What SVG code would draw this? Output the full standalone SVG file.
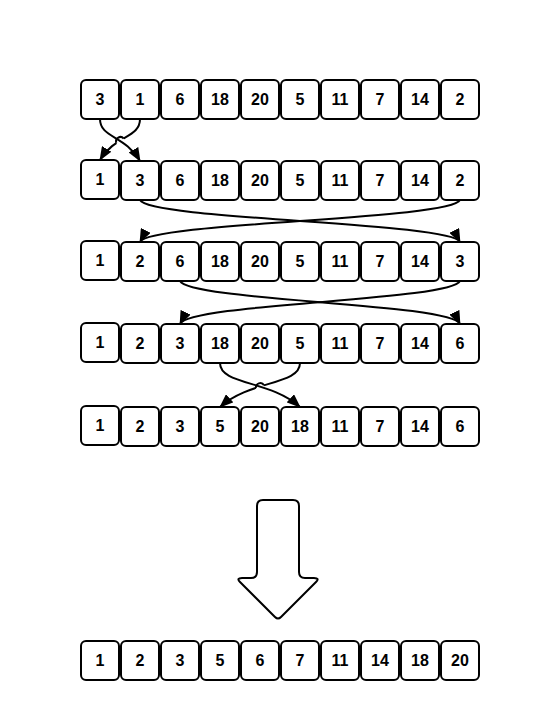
<svg xmlns="http://www.w3.org/2000/svg" width="560" height="721" viewBox="0 0 560 721">
<defs>
<style>
.b rect{fill:#fff;stroke:#000;stroke-width:2}
.b text{font-family:"Liberation Sans",Arial,sans-serif;font-weight:bold;font-size:16px;text-anchor:middle;fill:#000}
.c path{fill:none;stroke:#000;stroke-width:2}
.c path.gap{stroke:#fff;stroke-width:4}
</style>
<marker id="ah" viewBox="0 0 14 11" refX="13" refY="5.5" markerWidth="14" markerHeight="11" markerUnits="userSpaceOnUse" orient="auto">
<path d="M0,0 L14,5.5 L0,11 Z" fill="#000"/>
</marker>
</defs>
<rect width="560" height="721" fill="#fff"/>

<g id="row1" class="b">
<rect x="81" y="80" width="38" height="39" rx="5"/><text x="100" y="105">3</text>
<rect x="121" y="80" width="38" height="39" rx="5"/><text x="140" y="105">1</text>
<rect x="161" y="80" width="38" height="39" rx="5"/><text x="180" y="105">6</text>
<rect x="201" y="80" width="38" height="39" rx="5"/><text x="220" y="105">18</text>
<rect x="241" y="80" width="38" height="39" rx="5"/><text x="260" y="105">20</text>
<rect x="281" y="80" width="38" height="39" rx="5"/><text x="300" y="105">5</text>
<rect x="321" y="80" width="38" height="39" rx="5"/><text x="340" y="105">11</text>
<rect x="361" y="80" width="38" height="39" rx="5"/><text x="380" y="105">7</text>
<rect x="401" y="80" width="38" height="39" rx="5"/><text x="420" y="105">14</text>
<rect x="441" y="80" width="38" height="39" rx="5"/><text x="460" y="105">2</text>
</g>

<g id="row2" class="b">
<rect x="81" y="160" width="38" height="39" rx="5"/><text x="100" y="185">1</text>
<rect x="121" y="161" width="38" height="39" rx="5"/><text x="140" y="186">3</text>
<rect x="161" y="161" width="38" height="39" rx="5"/><text x="180" y="186">6</text>
<rect x="201" y="161" width="38" height="39" rx="5"/><text x="220" y="186">18</text>
<rect x="241" y="161" width="38" height="39" rx="5"/><text x="260" y="186">20</text>
<rect x="281" y="161" width="38" height="39" rx="5"/><text x="300" y="186">5</text>
<rect x="321" y="161" width="38" height="39" rx="5"/><text x="340" y="186">11</text>
<rect x="361" y="161" width="38" height="39" rx="5"/><text x="380" y="186">7</text>
<rect x="401" y="161" width="38" height="39" rx="5"/><text x="420" y="186">14</text>
<rect x="441" y="161" width="38" height="39" rx="5"/><text x="460" y="186">2</text>
</g>

<g id="row3" class="b">
<rect x="81" y="241" width="38" height="39" rx="5"/><text x="100" y="266">1</text>
<rect x="121" y="242" width="38" height="39" rx="5"/><text x="140" y="267">2</text>
<rect x="161" y="242" width="38" height="39" rx="5"/><text x="180" y="267">6</text>
<rect x="201" y="242" width="38" height="39" rx="5"/><text x="220" y="267">18</text>
<rect x="241" y="242" width="38" height="39" rx="5"/><text x="260" y="267">20</text>
<rect x="281" y="242" width="38" height="39" rx="5"/><text x="300" y="267">5</text>
<rect x="321" y="242" width="38" height="39" rx="5"/><text x="340" y="267">11</text>
<rect x="361" y="242" width="38" height="39" rx="5"/><text x="380" y="267">7</text>
<rect x="401" y="242" width="38" height="39" rx="5"/><text x="420" y="267">14</text>
<rect x="441" y="242" width="38" height="39" rx="5"/><text x="460" y="267">3</text>
</g>

<g id="row4" class="b">
<rect x="81" y="323" width="38" height="39" rx="5"/><text x="100" y="348">1</text>
<rect x="121" y="324" width="38" height="39" rx="5"/><text x="140" y="349">2</text>
<rect x="161" y="324" width="38" height="39" rx="5"/><text x="180" y="349">3</text>
<rect x="201" y="324" width="38" height="39" rx="5"/><text x="220" y="349">18</text>
<rect x="241" y="324" width="38" height="39" rx="5"/><text x="260" y="349">20</text>
<rect x="281" y="324" width="38" height="39" rx="5"/><text x="300" y="349">5</text>
<rect x="321" y="324" width="38" height="39" rx="5"/><text x="340" y="349">11</text>
<rect x="361" y="324" width="38" height="39" rx="5"/><text x="380" y="349">7</text>
<rect x="401" y="324" width="38" height="39" rx="5"/><text x="420" y="349">14</text>
<rect x="441" y="324" width="38" height="39" rx="5"/><text x="460" y="349">6</text>
</g>

<g id="row5" class="b">
<rect x="81" y="406" width="38" height="39" rx="5"/><text x="100" y="431">1</text>
<rect x="121" y="407" width="38" height="39" rx="5"/><text x="140" y="432">2</text>
<rect x="161" y="407" width="38" height="39" rx="5"/><text x="180" y="432">3</text>
<rect x="201" y="407" width="38" height="39" rx="5"/><text x="220" y="432">5</text>
<rect x="241" y="407" width="38" height="39" rx="5"/><text x="260" y="432">20</text>
<rect x="281" y="407" width="38" height="39" rx="5"/><text x="300" y="432">18</text>
<rect x="321" y="407" width="38" height="39" rx="5"/><text x="340" y="432">11</text>
<rect x="361" y="407" width="38" height="39" rx="5"/><text x="380" y="432">7</text>
<rect x="401" y="407" width="38" height="39" rx="5"/><text x="420" y="432">14</text>
<rect x="441" y="407" width="38" height="39" rx="5"/><text x="460" y="432">6</text>
</g>

<g id="result" class="b">
<rect x="81" y="641" width="38" height="39" rx="5"/><text x="100" y="666">1</text>
<rect x="121" y="641" width="38" height="39" rx="5"/><text x="140" y="666">2</text>
<rect x="161" y="641" width="38" height="39" rx="5"/><text x="180" y="666">3</text>
<rect x="201" y="641" width="38" height="39" rx="5"/><text x="220" y="666">5</text>
<rect x="241" y="641" width="38" height="39" rx="5"/><text x="260" y="666">6</text>
<rect x="281" y="641" width="38" height="39" rx="5"/><text x="300" y="666">7</text>
<rect x="321" y="641" width="38" height="39" rx="5"/><text x="340" y="666">11</text>
<rect x="361" y="641" width="38" height="39" rx="5"/><text x="380" y="666">14</text>
<rect x="401" y="641" width="38" height="39" rx="5"/><text x="420" y="666">18</text>
<rect x="441" y="641" width="38" height="39" rx="5"/><text x="460" y="666">20</text>
</g>

<g id="bigArrow">
<path d="M263,500 H293 Q299,500 299,506 V572 Q299,578 305,578 H314 Q320,578 316,582 L281,617 Q278,620 275,617 L240,582 Q236,578 242,578 H251 Q257,578 257,572 V506 Q257,500 263,500 Z" fill="#fff" stroke="#000" stroke-width="2"/>
</g>

<g id="connectors" class="c">
<path d="M140,119 C140,138 115,135 100,160" marker-end="url(#ah)"/>
<path class="gap" d="M123.7,138.6 L116.3,142.7"/>
<path d="M100,119 C100,138 125,135 140,161" marker-end="url(#ah)"/>
<path d="M123.7,138.6 A4.3,4.3 0 0 0 116.3,142.7"/>
<path d="M140,200 C150,220 450,222 460,242" marker-end="url(#ah)"/>
<path d="M460,200 C450,220 150,222 140,242" marker-end="url(#ah)"/>
<path d="M180,281 C190,301 450,303 460,324" marker-end="url(#ah)"/>
<path d="M460,281 C450,301 190,303 180,324" marker-end="url(#ah)"/>
<path d="M300,363 C300,385 250,380 220,407" marker-end="url(#ah)"/>
<path class="gap" d="M264,385.3 L256,388"/>
<path d="M220,363 C220,385 270,380 300,407" marker-end="url(#ah)"/>
<path d="M264,385.3 A4.3,4.3 0 0 0 256,388"/>
</g>
</svg>
